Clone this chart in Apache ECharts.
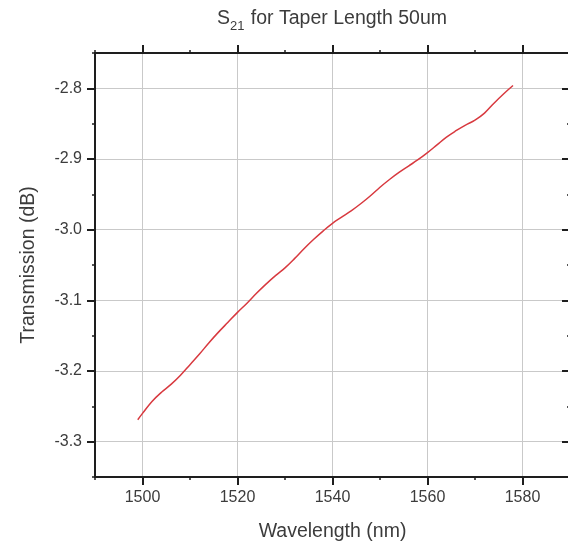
<!DOCTYPE html>
<html>
<head>
<meta charset="utf-8">
<script src="https://cdn.jsdelivr.net/npm/echarts@6/dist/echarts.min.js"></script>
<style>
html,body{margin:0;padding:0;background:#fff;}
#chart{width:568px;height:547px;}
</style>
</head>
<body>
<div id="chart"></div>
<script>
// Data
const wavelength = [1499,1500,1502,1504,1506,1508,1510,1512,1514,1516,1518,1520,1522,1524,1526,1528,1530,1532,1534,1536,1538,1540,1542,1544,1546,1548,1550,1552,1554,1556,1558,1560,1562,1564,1566,1568,1570,1572,1574,1576,1578];
const transmission = [-3.269,-3.260,-3.243,-3.230,-3.219,-3.206,-3.191,-3.176,-3.160,-3.145,-3.131,-3.117,-3.104,-3.090,-3.077,-3.065,-3.054,-3.041,-3.027,-3.014,-3.002,-2.991,-2.982,-2.973,-2.963,-2.952,-2.940,-2.929,-2.919,-2.910,-2.901,-2.891,-2.880,-2.869,-2.860,-2.852,-2.845,-2.835,-2.821,-2.808,-2.796];
// Tick positions (major every other one)
const xTicks = ['1490','1500','1510','1520','1530','1540','1550','1560','1570','1580','1590'];
const yTicks = ['-3.35','-3.30','-3.25','-3.20','-3.15','-3.10','-3.05','-3.00','-2.95','-2.90','-2.85','-2.80','-2.75'];

const textColor = '#3c3c3c';
const axisColor = '#1e1e1e';
const gridColor = '#c9c9c9';
const isMajor = (i) => i % 2 === 1;

const chart = echarts.init(document.getElementById('chart'), null, {renderer: 'canvas'});

const valueAxisBase = (pos, extra) => Object.assign({
  type: 'value', position: pos,
  axisLine: {show: true, onZero: false, lineStyle: {color: axisColor, width: 2}},
  axisTick: {show: true, length: 3, lineStyle: {color: axisColor, width: 1.5}},
  axisLabel: {show: false},
  splitLine: {show: false}
}, extra);

const catAxisBase = (pos, data, extra) => Object.assign({
  type: 'category', position: pos, data: data, boundaryGap: false,
  axisLine: {show: false, onZero: false},
  axisTick: {show: true, length: 8, interval: isMajor, lineStyle: {color: axisColor, width: 2}},
  axisLabel: {show: false},
  splitLine: {show: false}
}, extra);

const option = {
  backgroundColor: '#ffffff',
  animation: false,
  title: {
    text: '{s|S}{sub|21}{s| for Taper Length 50um}',
    left: 332, top: 9, padding: 0, textAlign: 'center',
    textStyle: {
      fontWeight: 'normal',
      rich: {
        s: {fontSize: 19.5, fontWeight: 'normal', fontFamily: 'Liberation Sans', color: textColor, lineHeight: 22, verticalAlign: 'top'},
        sub: {fontSize: 13, fontWeight: 'normal', fontFamily: 'Liberation Sans', color: textColor, lineHeight: 12, padding: [12, 1, 0, 0]}
      }
    }
  },
  grid: {left: 95, top: 53, width: 475, height: 424, containLabel: false, outerBoundsMode: 'none'},
  xAxis: [
    valueAxisBase('bottom', {
      min: 1490, max: 1590, interval: 10,
      name: 'Wavelength (nm)', nameLocation: 'middle', nameGap: 45,
      nameTextStyle: {fontSize: 19.5, fontFamily: 'Liberation Sans', color: textColor}
    }),
    catAxisBase('bottom', xTicks, {
      axisLabel: {show: true, interval: isMajor, margin: 13, fontSize: 16, fontFamily: 'Liberation Sans', color: textColor},
      splitLine: {show: true, interval: isMajor, lineStyle: {color: gridColor, width: 1}}
    }),
    valueAxisBase('top', {min: 1490, max: 1590, interval: 10}),
    catAxisBase('top', xTicks, {})
  ],
  yAxis: [
    valueAxisBase('left', {
      min: -3.35, max: -2.75, interval: 0.05,
      name: 'Transmission (dB)', nameLocation: 'middle', nameGap: 56,
      nameTextStyle: {fontSize: 19.5, fontFamily: 'Liberation Sans', color: textColor}
    }),
    catAxisBase('left', yTicks, {
      axisLabel: {show: true, interval: isMajor, margin: 13, fontSize: 16, fontFamily: 'Liberation Sans', color: textColor,
        formatter: (v) => Number(v).toFixed(1)},
      splitLine: {show: true, interval: isMajor, lineStyle: {color: gridColor, width: 1}}
    }),
    valueAxisBase('right', {min: -3.35, max: -2.75, interval: 0.05,
      axisTick: {show: true, inside: true, length: 3, lineStyle: {color: axisColor, width: 1.5}}}),
    catAxisBase('right', yTicks, {
      axisTick: {show: true, inside: true, length: 8, interval: isMajor, lineStyle: {color: axisColor, width: 2}}
    })
  ],
  series: [{
    type: 'line',
    xAxisIndex: 0, yAxisIndex: 0,
    data: wavelength.map((w, i) => [w, transmission[i]]),
    showSymbol: false,
    smooth: 0.4,
    lineStyle: {color: '#d8393f', width: 1.5},
    itemStyle: {color: '#d8393f'},
    z: 5
  }]
};
chart.setOption(option);
</script>
</body>
</html>
